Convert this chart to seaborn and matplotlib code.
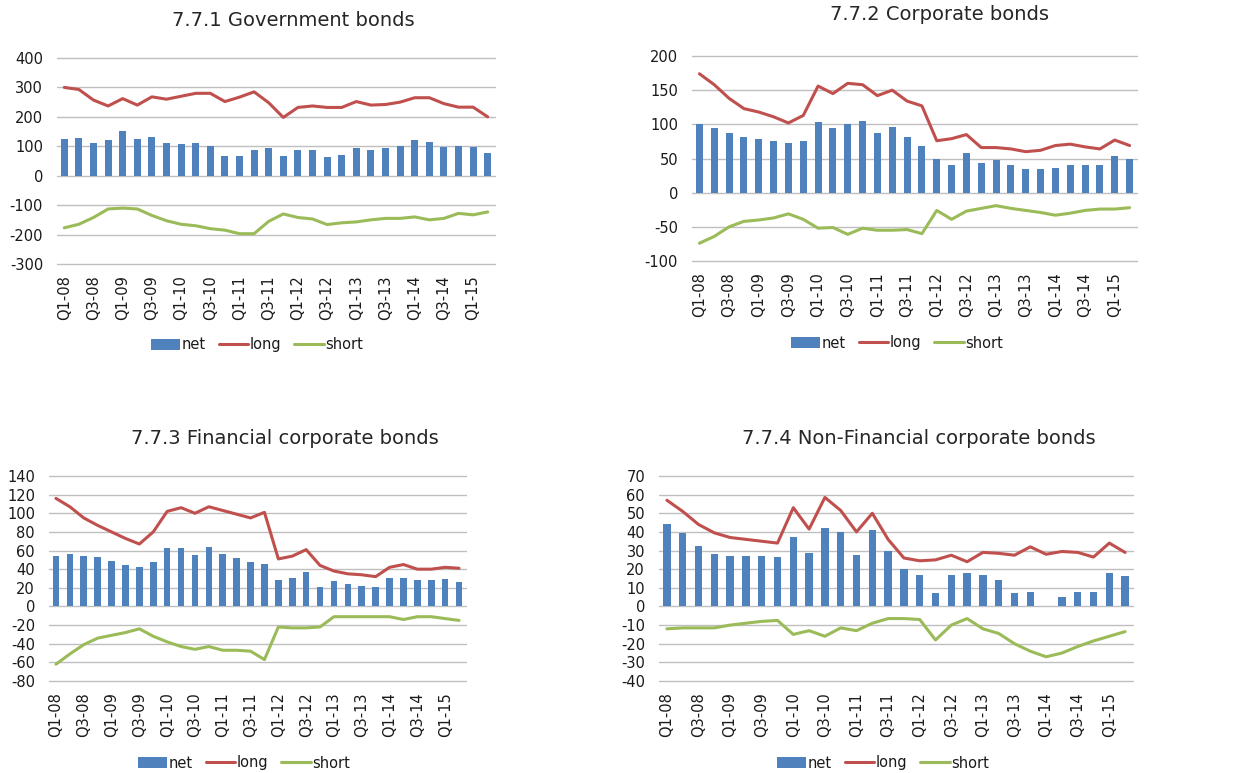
import numpy as np
import pandas as pd
import matplotlib
matplotlib.use("Agg")
import matplotlib.pyplot as plt
import seaborn as sns
from matplotlib.patches import Patch
from matplotlib.lines import Line2D

sns.set_theme(style="white")
plt.rcParams['font.family'] = ['DejaVu Sans']
plt.rcParams['axes.unicode_minus'] = False

quarters = [f"Q{q}-{y:02d}" for y in range(8, 16) for q in range(1, 5)][:30]

gov_net = [125, 127, 112, 120, 152, 125, 132, 110, 107, 112, 102, 68, 68, 88, 93,
           68, 88, 88, 65, 70, 95, 88, 95, 102, 122, 115, 98, 102, 98, 78]
gov_long = [300, 293, 257, 237, 262, 240, 268, 260, 270, 280, 280, 252, 267, 285, 248,
            198, 232, 237, 232, 232, 252, 240, 242, 250, 265, 265, 245, 233, 233, 200]
gov_short = [-177, -165, -142, -113, -110, -113, -135, -153, -165, -170, -180, -185, -197, -197, -155,
             -130, -142, -147, -166, -160, -157, -150, -145, -145, -140, -150, -145, -128, -133, -123]

corp_net = [100, 95, 87, 82, 78, 75, 72, 76, 103, 95, 100, 105, 87, 96, 81,
            68, 50, 41, 58, 44, 48, 41, 34, 34, 36, 41, 41, 40, 54, 49]
corp_long = [174, 158, 138, 123, 118, 111, 102, 113, 156, 145, 160, 158, 142, 150, 134,
             127, 76, 79, 85, 66, 66, 64, 60, 62, 69, 71, 67, 64, 77, 69]
corp_short = [-74, -64, -50, -42, -40, -37, -31, -39, -52, -51, -61, -52, -55, -55, -54,
              -60, -26, -39, -27, -23, -19, -23, -26, -29, -33, -30, -26, -24, -24, -22]

fin_net = [54, 56, 54, 53, 49, 45, 42, 48, 63, 63, 55, 64, 56, 52, 48,
           46, 28, 31, 37, 21, 27, 24, 22, 21, 31, 31, 28, 28, 29, 26]
fin_long = [116, 107, 95, 87, 80, 73, 67, 80, 102, 106, 100, 107, 103, 99, 95,
            101, 51, 54, 61, 44, 38, 35, 34, 32, 42, 45, 40, 40, 42, 41]
fin_short = [-62, -51, -41, -34, -31, -28, -24, -32, -38, -43, -46, -43, -47, -47, -48,
             -57, -22, -23, -23, -22, -11, -11, -11, -11, -11, -14, -11, -11, -13, -15]

nonfin_net = [44.5, 39.5, 32.5, 28, 27, 27, 27, 26.5, 37.5, 28.5, 42, 40, 27.5, 41, 30,
              20, 17, 7, 17, 18, 17, 14, 7, 8, 0.5, 5, 8, 7.5, 18, 16.5]
nonfin_long = [57, 51, 44, 39.5, 37, 36, 35, 34, 53, 41.5, 58.5, 51.5, 40, 50, 36,
               26, 24.5, 25, 27.5, 24, 29, 28.5, 27.5, 32, 28, 29.5, 29, 26.5, 34, 29]
nonfin_short = [-12, -11.5, -11.5, -11.5, -10, -9, -8, -7.5, -15, -13, -16, -11.5, -13, -9, -6.5,
                -6.5, -7, -18, -10, -6.5, -12, -14.5, -20, -24, -27, -25, -21.5, -18.5, -16, -13.5]

BLUE = "#4F81BD"
RED = "#C0504D"
GREEN = "#9BBB59"
TEXT = "#1A1A1A"

W, H = 1236, 773
fig = plt.figure(figsize=(W / 100, H / 100), dpi=100)


def px_axes(x0, x1, y0, y1):
    return fig.add_axes([x0 / W, 1 - y1 / H, (x1 - x0) / W, (y1 - y0) / H])


panels = [
    dict(title="7.7.1 Government bonds", net=gov_net, long=gov_long, short=gov_short,
         box=(57, 495, 58, 264), ylim=(-300, 400), step=100,
         title_xy=(293, 20), leg_xy=(257, 345)),
    dict(title="7.7.2 Corporate bonds", net=corp_net, long=corp_long, short=corp_short,
         box=(692, 1137, 56, 261), ylim=(-100, 200), step=50,
         title_xy=(940, 14), leg_xy=(897, 343)),
    dict(title="7.7.3 Financial corporate bonds", net=fin_net, long=fin_long, short=fin_short,
         box=(49, 466, 476, 681), ylim=(-80, 140), step=20,
         title_xy=(285, 439), leg_xy=(244, 763)),
    dict(title="7.7.4 Non-Financial corporate bonds", net=nonfin_net, long=nonfin_long,
         short=nonfin_short, box=(659, 1133, 476, 681), ylim=(-40, 70), step=10,
         title_xy=(919, 439), leg_xy=(883, 763)),
]

for p in panels:
    ax = px_axes(*p["box"])
    df = pd.DataFrame({"quarter": quarters, "net": p["net"],
                       "long": p["long"], "short": p["short"]})
    df["pos"] = np.arange(len(df))
    sns.barplot(data=df, x="quarter", y="net", color=BLUE, width=0.48,
                saturation=1, linewidth=0, ax=ax, zorder=2)
    sns.lineplot(data=df, x="pos", y="long", color=RED, linewidth=2.2, ax=ax, zorder=3)
    sns.lineplot(data=df, x="pos", y="short", color=GREEN, linewidth=2.2, ax=ax, zorder=3)

    lo, hi = p["ylim"]
    ax.set_ylim(lo, hi)
    ax.set_yticks(np.arange(lo, hi + p["step"] / 2, p["step"]))
    ax.set_xlim(-0.5, len(quarters) - 0.5)
    ax.set_xticks(np.arange(0, len(quarters), 2))
    ax.set_xticklabels(quarters[::2], rotation=90)
    ax.set_xlabel("")
    ax.set_ylabel("")
    ax.yaxis.grid(True, color="#BFBFBF", linewidth=1.0, zorder=0)
    ax.xaxis.grid(False)
    ax.set_axisbelow(True)
    for gl in ax.get_ygridlines():
        gl.set_clip_on(False)
    for s in ax.spines.values():
        s.set_visible(False)
    ax.tick_params(axis="both", length=0, labelsize=10.5, colors=TEXT)
    ax.tick_params(axis="x", pad=8)
    ax.tick_params(axis="y", pad=10)

    fig.text(p["title_xy"][0] / W, 1 - p["title_xy"][1] / H, p["title"],
             ha="center", va="center", fontsize=14, color="#262626")

    handles = [Patch(facecolor=BLUE, edgecolor="none"),
               Line2D([0], [0], color=RED, linewidth=2.2),
               Line2D([0], [0], color=GREEN, linewidth=2.2)]
    fig.legend(handles, ["net", "long", "short"], loc="center",
               bbox_to_anchor=(p["leg_xy"][0] / W, 1 - p["leg_xy"][1] / H),
               ncol=3, frameon=False, fontsize=10.5, handlelength=2.0,
               handleheight=0.75, handletextpad=0.1, columnspacing=0.9,
               borderpad=0, labelcolor=TEXT)

fig.savefig("out.png", dpi=100, facecolor="white")
